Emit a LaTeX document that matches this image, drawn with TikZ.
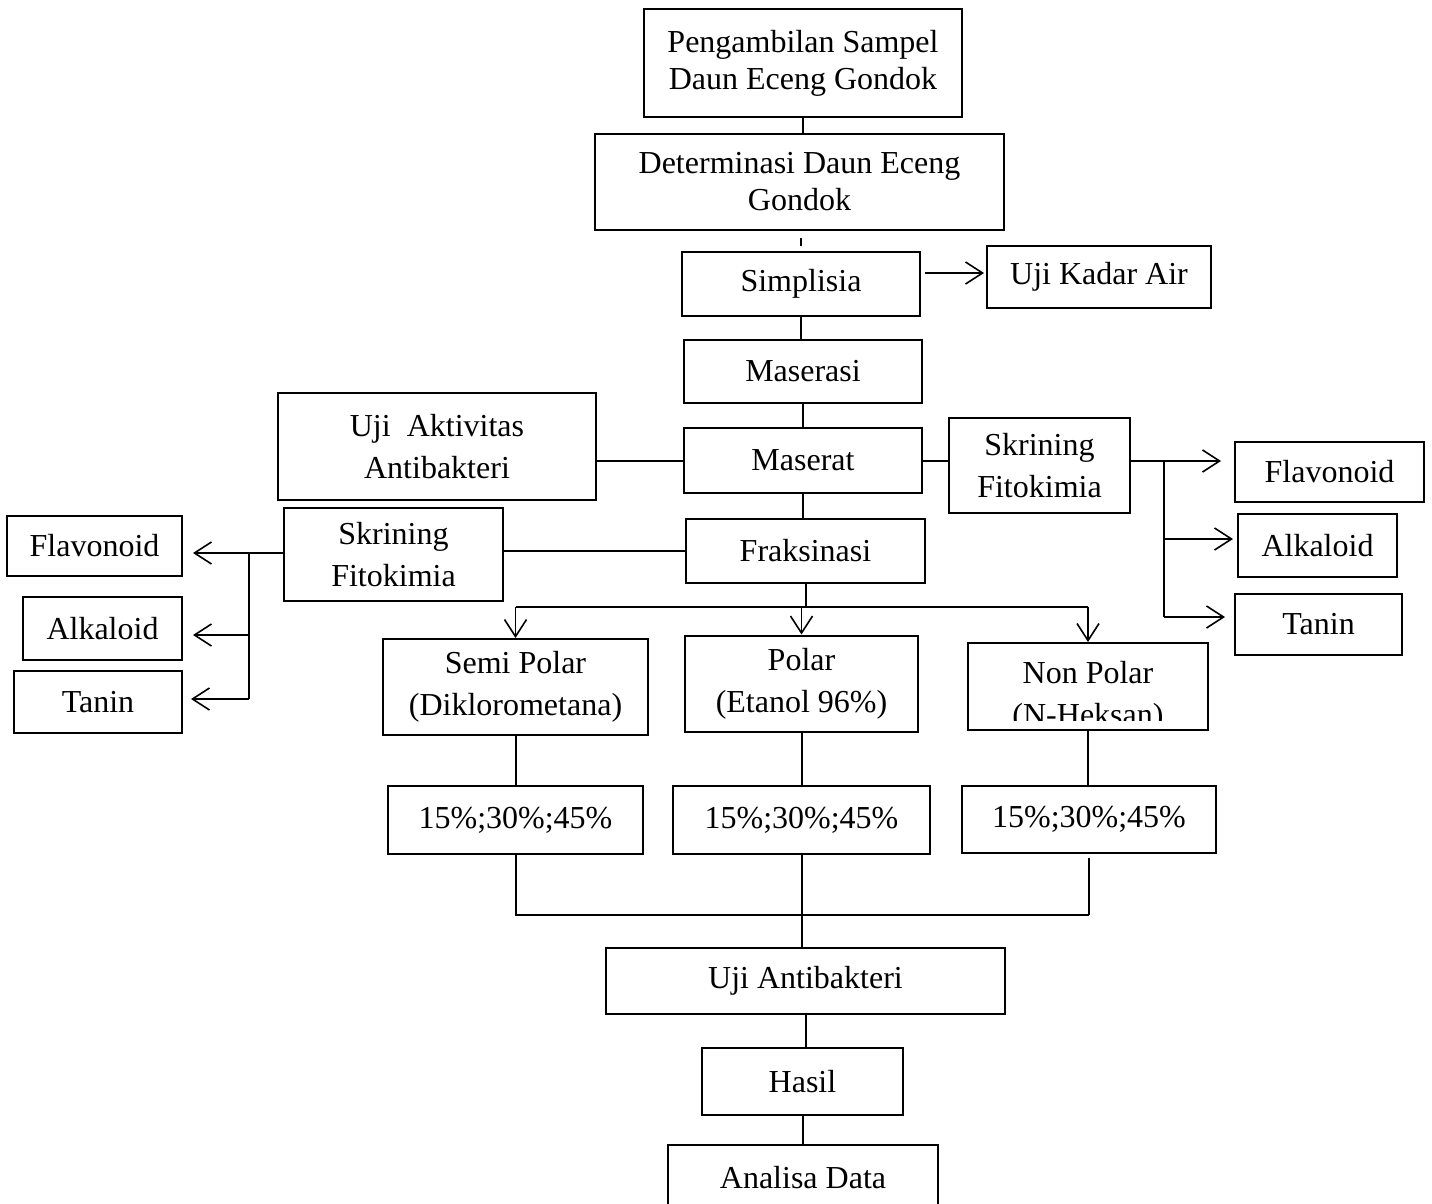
\documentclass[tikz,border=0pt]{standalone}
\usepackage{fontspec}
\setmainfont{Liberation Serif}
\usetikzlibrary{arrows.meta}
\begin{document}
\begin{tikzpicture}[x=1pt,y=-1pt,
  box/.style={draw, line width=2pt, inner sep=0pt, align=center,
    font=\fontsize{32}{37}\selectfont},
  wide/.style={font=\fontsize{32}{42}\selectfont},
  link/.style={line width=2pt},
  arr/.style={line width=1.6pt,
    -{Straight Barb[length=17pt,width=22pt,line width=1.6pt]}},
]
\useasboundingbox (0,0) rectangle (1432,1203);

% main column
\node[box, minimum width=318pt, minimum height=108pt] (ambil) at (803,63) {Pengambilan Sampel\\Daun Eceng Gondok};
\node[box, minimum width=409pt, minimum height=96pt] (determ) at (799.5,182) {Determinasi Daun Eceng\\Gondok};
\node[box, minimum width=238pt, minimum height=64pt] (simp) at (801,284) {Simplisia};
\node[box, minimum width=224pt, minimum height=62pt] (kadar) at (1099,277) {Uji Kadar Air};
\node[box, minimum width=238pt, minimum height=63pt] (maserasi) at (803,371.5) {Maserasi};
\node[box, minimum width=238pt, minimum height=65pt] (maserat) at (803,460.5) {Maserat};
\node[box, wide, minimum width=318pt, minimum height=107pt] (ujiakt) at (437,446.5) {Uji\ \ Aktivitas\\Antibakteri};
\node[box, minimum width=239pt, minimum height=64pt] (fraks) at (805.5,551) {Fraksinasi};

% screening, right side
\node[box, wide, minimum width=181pt, minimum height=95pt] (skrR) at (1039.5,465.5) {Skrining\\Fitokimia};
\node[box, minimum width=189pt, minimum height=60pt] (flavR) at (1329.5,472) {Flavonoid};
\node[box, minimum width=159pt, minimum height=63pt] (alkR) at (1317.5,545.5) {Alkaloid};
\node[box, minimum width=167pt, minimum height=61pt] (taninR) at (1318.5,624.5) {Tanin};

% screening, left side
\node[box, wide, minimum width=219pt, minimum height=93pt] (skrL) at (393.5,554.5) {Skrining\\Fitokimia};
\node[box, minimum width=175pt, minimum height=60pt] (flavL) at (94.5,546) {Flavonoid};
\node[box, minimum width=159pt, minimum height=63pt] (alkL) at (102.5,628.5) {Alkaloid};
\node[box, minimum width=168pt, minimum height=62pt] (taninL) at (98,702) {Tanin};

% fractions
\node[box, wide, minimum width=265pt, minimum height=96pt] (semi) at (515.5,687) {Semi Polar\\(Diklorometana)};
\node[box, wide, minimum width=233pt, minimum height=96pt] (polar) at (801.5,683.5) {Polar\\(Etanol 96\%)};
\node[box, minimum width=240pt, minimum height=87pt] (nonpolar) at (1088,686.5) {};
\begin{scope}
  \clip (968,643) rectangle (1208,720);
  \node[font=\fontsize{32}{42}\selectfont, align=center, inner sep=0pt] (nonpolartext) at (1088,696.5) {Non Polar\\(N-Heksan)};
\end{scope}

% concentrations
\node[box, minimum width=255pt, minimum height=68pt] (conA) at (515.5,820) {15\%;30\%;45\%};
\node[box, minimum width=257pt, minimum height=68pt] (conB) at (801.5,820) {15\%;30\%;45\%};
\node[box, minimum width=254pt, minimum height=67pt] (conC) at (1089,819.5) {15\%;30\%;45\%};

% final steps
\node[box, minimum width=399pt, minimum height=66pt] (ujianti) at (805.5,981) {Uji Antibakteri};
\node[box, minimum width=201pt, minimum height=67pt] (hasil) at (802.5,1081.5) {Hasil};
\node[box, minimum width=270pt, minimum height=65pt] (analisa) at (803,1177.5) {Analisa Data};

% connectors of the main column
\draw[link] (ambil.south) -- (ambil.south |- determ.north);
\draw[link, shorten <=7pt, shorten >=5pt] (simp.north |- determ.south) -- (simp.north);
\coordinate (kadarIn) at ([yshift=4pt]kadar.west);
\draw[arr, shorten <=4pt, shorten >=2pt] (simp.east |- kadarIn) -- (kadarIn);
\draw[link] (simp.south) -- (simp.south |- maserasi.north);
\draw[link] (maserasi.south) -- (maserat.north);
\draw[link] (maserat.west -| ujiakt.east) -- (maserat.west);
\draw[link] (maserat.east) -- (maserat.east -| skrR.west);
\draw[link] (maserat.south) -- (maserat.south |- fraks.north);

% right screening branch
\coordinate (jR) at (1164,461);
\coordinate (flavRin) at ([yshift=11pt]flavR.west);
\coordinate (alkRin) at ([yshift=6.5pt]alkR.west);
\coordinate (taninRin) at ([yshift=7.5pt]taninR.west);
\draw[link] (skrR.east |- jR) -- (jR) -- (jR |- taninRin);
\draw[arr, shorten >=13pt] (jR) -- (flavRin);
\draw[arr, shorten >=4pt] (jR |- alkRin) -- (alkRin);
\draw[arr, shorten >=9pt] (jR |- taninRin) -- (taninRin);

% left screening branch
\coordinate (jL) at (249,553);
\coordinate (flavLin) at ([yshift=-7pt]flavL.east);
\coordinate (alkLin) at ([yshift=-6.5pt]alkL.east);
\coordinate (taninLin) at ([yshift=3pt]taninL.east);
\draw[link] (skrL.west |- jL) -- (jL) -- (jL |- taninLin);
\draw[arr, shorten >=10pt] (jL) -- (flavLin);
\draw[arr, shorten >=10pt] (jL |- alkLin) -- (alkLin);
\draw[arr, shorten >=8pt] (jL |- taninLin) -- (taninLin);
\draw[link] (skrL.east |- fraks.west) -- (fraks.west);

% split into the three fractions
\coordinate (split) at (803,607);
\draw[link] (fraks.south) -- (fraks.south |- split);
\draw[link] (semi.north |- split) -- (nonpolar.north |- split);
\draw[arr] (semi.north |- split) -- (semi.north);
\draw[arr] (polar.north |- split) -- (polar.north);
\draw[arr] (nonpolar.north |- split) -- (nonpolar.north);

% fractions to concentrations
\draw[link] (semi.south) -- (conA.north);
\draw[link] (polar.south) -- (polar.south |- conB.north);
\draw[link] (nonpolar.south) -- (nonpolar.south |- conC.north);

% merge and final steps
\coordinate (merge) at (805,915);
\draw[link] (conA.south) -- (conA.south |- merge) -- (conC.south |- merge);
\draw[link, shorten <=4pt] (conC.south) -- (conC.south |- merge);
\draw[link] (conB.south) -- (conB.south |- ujianti.north);
\draw[link] (ujianti.south) -- (ujianti.south |- hasil.north);
\draw[link] (hasil.south) -- (hasil.south |- analisa.north);
\end{tikzpicture}
\end{document}
